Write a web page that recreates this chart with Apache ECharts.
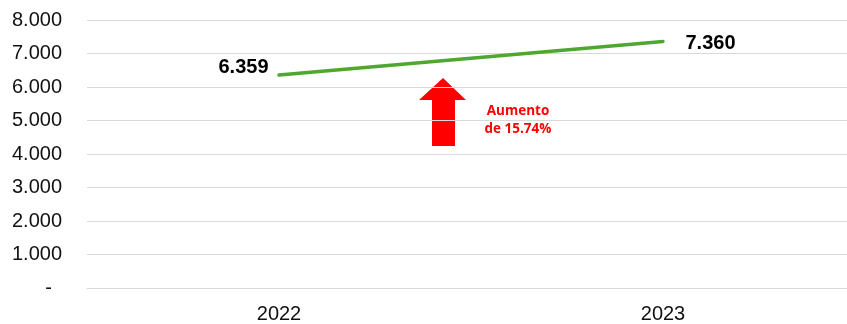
<!DOCTYPE html>
<html>
<head>
<meta charset="utf-8">
<script src="https://cdn.jsdelivr.net/npm/echarts@6/dist/echarts.min.js"></script>
<style>
  html, body { margin: 0; padding: 0; background: #fff; overflow: hidden; }
  /* the plot area runs a few pixels past the right edge of the page */
  #chart { width: 855px; height: 324px; }
</style>
</head>
<body>
<div id="chart"></div>
<script>
// Annual totals
const years = ['2022', '2023'];
const totals = [6359, 7360];
const yTicks = [0, 1000, 2000, 3000, 4000, 5000, 6000, 7000, 8000];
const noteLines = ['Aumento', 'de 15.74%'];

const fmt = v => v === 0 ? '-' : v.toLocaleString('de-DE');

const chart = echarts.init(document.getElementById('chart'));

chart.setOption({
  animation: false,
  grid: { left: 87, top: 20, bottom: 35, right: 0 },
  xAxis: {
    type: 'category',
    data: years,
    boundaryGap: true,
    axisLine: { show: true, lineStyle: { color: '#d9d9d9', width: 1 } },
    axisTick: { show: false },
    axisLabel: { color: '#111', fontSize: 20, fontFamily: 'Liberation Sans, Arial', margin: 16 }
  },
  yAxis: {
    type: 'value',
    min: yTicks[0],
    max: yTicks[yTicks.length - 1],
    interval: 1000,
    axisLine: { show: false },
    axisTick: { show: false },
    splitLine: { lineStyle: { color: '#d9d9d9', width: 1 } },
    axisLabel: {
      color: '#111', fontSize: 20, fontFamily: 'Liberation Sans, Arial', margin: 25,
      // accounting style: zero shown as a dash, padded in from the right
      formatter: v => v === 0 ? '-\u2002' : fmt(v)
    }
  },
  series: [{
    type: 'line',
    data: totals.map((v, i) => ({
      value: v,
      label: i === 0
        ? { position: 'left', distance: 10, offset: [0, -7] }
        : { position: 'right', distance: 22, offset: [0, 2] }
    })),
    symbol: 'circle',
    symbolSize: 1,
    showSymbol: true,
    itemStyle: { color: 'rgba(0,0,0,0)' },
    lineStyle: { color: '#4ea72e', width: 3.5, cap: 'round' },
    label: {
      show: true,
      formatter: p => fmt(p.value),
      color: '#000',
      fontSize: 20,
      fontWeight: 'bold',
      fontFamily: 'Liberation Sans, Arial'
    }
  }],
  graphic: [
    {
      type: 'polygon',
      shape: { points: [[443, 78], [466, 100], [455, 100], [455, 146], [432, 146], [432, 100], [419, 100]] },
      style: { fill: '#ff0000' }
    },
    {
      type: 'rect',
      shape: { x: 468, y: 100, width: 100, height: 42 },
      style: { fill: '#ffffff' }
    },
    {
      type: 'text',
      x: 518,
      y: 120,
      style: {
        text: noteLines.join('\n'),
        fill: '#ff0000',
        font: 'bold 13.5px "Open Sans", "Liberation Sans", Arial',
        lineHeight: 18,
        align: 'center',
        verticalAlign: 'middle'
      }
    }
  ]
});
</script>
</body>
</html>
